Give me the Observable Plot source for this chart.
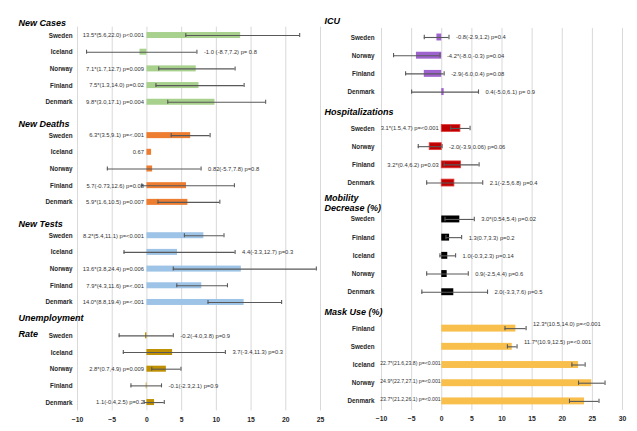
<!DOCTYPE html>
<html>
<head>
<meta charset="utf-8">
<script src="https://cdn.jsdelivr.net/npm/d3@7"></script>
<script src="https://cdn.jsdelivr.net/npm/@observablehq/plot@0.6"></script>
<style>
  html, body { margin: 0; padding: 0; background: #fff; }
  #wrap { position: relative; width: 637px; height: 431px; overflow: hidden; background: #fff; }
  #left { position: absolute; left: 0; top: 0; }
  #right { position: absolute; left: 312px; top: 0; }
  svg { overflow: visible; }
</style>
</head>
<body>
<div id="wrap"><div id="left"></div><div id="right"></div></div>
<script>
// ---------- Left column data ----------
const newCasesCountries = ["Sweden", "Iceland", "Norway", "Finland", "Denmark"];
const newCasesValues = [13.5, -1.0, 7.1, 7.5, 9.8];
const newCasesLo = [5.6, -8.7, 1.7, 1.3, 3.0];
const newCasesHi = [22.0, 7.2, 12.7, 14.0, 17.1];
const newCasesLabels = ["13.5*(5.6,22.0) p<0.001", "-1.0 (-8.7,7.2) p= 0.8", "7.1*(1.7,12.7) p=0.009", "7.5*(1.3,14.0) p=0.02", "9.8*(3.0,17.1) p=0.004"];
const newCasesSide = ["L", "R", "L", "L", "L"];

const newDeathsCountries = ["Sweden", "Iceland", "Norway", "Finland", "Denmark"];
const newDeathsValues = [6.3, 0.67, 0.82, 5.7, 5.9];
const newDeathsLo = [3.5, null, -5.7, -0.73, 1.6];
const newDeathsHi = [9.1, null, 7.8, 12.6, 10.5];
const newDeathsLabels = ["6.3*(3.5,9.1) p=<.001", "0.67", "0.82(-5.7,7.8) p=0.8", "5.7(-0.73,12.6) p=0.08", "5.9*(1.6,10.5) p=0.007"];
const newDeathsSide = ["L", "L", "R", "L", "L"];

const newTestsCountries = ["Sweden", "Iceland", "Norway", "Finland", "Denmark"];
const newTestsValues = [8.2, 4.4, 13.6, 7.9, 14.0];
const newTestsLo = [5.4, -3.3, 3.8, 4.3, 8.8];
const newTestsHi = [11.1, 12.7, 24.4, 11.6, 19.4];
const newTestsLabels = ["8.2*(5.4,11.1) p=<0.001", "4.4(-3.3,12.7) p=0.3", "13.6*(3.8,24.4) p=0.006", "7.9*(4.3,11.6) p=<.001", "14.0*(8.8,19.4) p=<.001"];
const newTestsSide = ["L", "R", "L", "L", "L"];

const unemploymentCountries = ["Sweden", "Iceland", "Norway", "Finland", "Denmark"];
const unemploymentValues = [-0.2, 3.7, 2.8, -0.1, 1.1];
const unemploymentLo = [-4.0, -3.4, 0.7, -2.3, -0.4];
const unemploymentHi = [3.8, 11.3, 4.9, 2.1, 2.5];
const unemploymentLabels = ["-0.2(-4.0,3.8) p=0.9", "3.7(-3.4,11.3) p=0.3", "2.8*(0.7,4.9) p=0.009", "-0.1(-2.3,2.1) p=0.9", "1.1(-0.4,2.5) p=0.2"];
const unemploymentSide = ["R", "R", "L", "R", "L"];

const leftTicks = [-10, -5, 0, 5, 10, 15, 20, 25];

// ---------- Right column data ----------
const icuCountries = ["Sweden", "Norway", "Finland", "Denmark"];
const icuValues = [-0.8, -4.2, -2.9, 0.4];
const icuLo = [-2.9, -8.0, -6.0, -5.0];
const icuHi = [1.2, -0.3, 0.4, 6.1];
const icuLabels = ["-0.8(-2.9,1.2) p=0.4", "-4.2*(-8.0,-0.3) p=0.04", "-2.9(-6.0,0.4) p=0.08", "0.4(-5.0,6.1) p= 0.9"];
const icuSide = ["R", "R", "R", "R"];

const hospCountries = ["Sweden", "Norway", "Finland", "Denmark"];
const hospValues = [3.1, -2.0, 3.2, 2.1];
const hospLo = [1.5, -3.9, 0.4, -2.5];
const hospHi = [4.7, 0.06, 6.2, 6.8];
const hospLabels = ["3.1*(1.5,4.7) p=<0.001", "-2.0(-3.9,0.06) p=0.06", "3.2*(0.4,6.2) p=0.03", "2.1(-2.5,6.8) p=0.4"];
const hospSide = ["L", "R", "L", "R"];

const mobilityCountries = ["Sweden", "Finland", "Iceland", "Norway", "Denmark"];
const mobilityValues = [3.0, 1.3, 1.0, 0.9, 2.0];
const mobilityLo = [0.54, 0.7, -0.3, -2.5, -3.3];
const mobilityHi = [5.4, 3.3, 2.3, 4.4, 7.6];
const mobilityLabels = ["3.0*(0.54,5.4) p=0.02", "1.3(0.7,3.3) p=0.2", "1.0(-0.3,2.3) p=0.14", "0.9(-2.5,4.4) p=0.6", "2.0(-3.3,7.6) p=0.5"];
const mobilitySide = ["R", "R", "R", "R", "R"];

const maskCountries = ["Finland", "Sweden", "Iceland", "Norway", "Denmark"];
const maskValues = [12.3, 11.7, 22.7, 24.9, 23.7];
const maskLo = [10.5, 10.9, 21.6, 22.7, 21.2];
const maskHi = [14.0, 12.5, 23.8, 27.1, 26.1];
const maskLabels = ["12.3*(10.5,14.0) p=<0.001", "11.7*(10.9,12.5) p=<0.001", "22.7*(21.6,23.8) p=<0.001", "24.9*(22.7,27.1) p=<0.001", "23.7*(21.2,26.1) p=<0.001"];
const maskSide = ["R", "R", "L", "L", "L"];

const rightTicks = [-10, -5, 0, 5, 10, 15, 20, 25, 30];

// ---------- Build ----------
const leftPanels = [
  {title: "New Cases", color: "#a9d18e", c: newCasesCountries, v: newCasesValues, lo: newCasesLo, hi: newCasesHi, lab: newCasesLabels, side: newCasesSide},
  {title: "New Deaths", color: "#ed7d31", c: newDeathsCountries, v: newDeathsValues, lo: newDeathsLo, hi: newDeathsHi, lab: newDeathsLabels, side: newDeathsSide},
  {title: "New Tests", color: "#9dc3e6", c: newTestsCountries, v: newTestsValues, lo: newTestsLo, hi: newTestsHi, lab: newTestsLabels, side: newTestsSide},
  {title: "Unemployment\nRate", color: "#bf9000", c: unemploymentCountries, v: unemploymentValues, lo: unemploymentLo, hi: unemploymentHi, lab: unemploymentLabels, side: unemploymentSide}
];
const rightPanels = [
  {title: "ICU", color: "#9e63cf", c: icuCountries, v: icuValues, lo: icuLo, hi: icuHi, lab: icuLabels, side: icuSide},
  {title: "Hospitalizations", color: "#c00000", c: hospCountries, v: hospValues, lo: hospLo, hi: hospHi, lab: hospLabels, side: hospSide},
  {title: "Mobility\nDecrease (%)", color: "#000000", c: mobilityCountries, v: mobilityValues, lo: mobilityLo, hi: mobilityHi, lab: mobilityLabels, side: mobilitySide},
  {title: "Mask Use (%)", color: "#f8bf4c", c: maskCountries, v: maskValues, lo: maskLo, hi: maskHi, lab: maskLabels, side: maskSide, lift: true}
];

function build(panels) {
  const rows = [], titles = [];
  let slot = 0;
  for (const p of panels) {
    titles.push({slot, title: p.title});
    slot++;
    p.c.forEach((country, i) => {
      rows.push({slot, country, value: p.v[i], lo: p.lo[i], hi: p.hi[i], label: p.lab[i], side: p.side[i], color: p.color, lift: !!p.lift});
      slot++;
    });
  }
  return {rows, titles, n: slot};
}

const font = "'Liberation Sans', Arial, sans-serif";

function column({panels, ticks, width, marginLeft, marginRight, marginTop, marginBottom, domain, titleDx, titleDy, multiDy, titleLineHeight, countryDx, barHalf}) {
  const {rows, titles, n} = build(panels);
  const ci = rows.filter(d => d.lo != null);
  const caps = ci.flatMap(d => [{x: d.lo, slot: d.slot}, {x: d.hi, slot: d.slot}]);
  const leftLab = rows.filter(d => d.side === "L" && !d.lift);
  const leftLabLift = rows.filter(d => d.side === "L" && d.lift);
  const rightLab = rows.filter(d => d.side === "R");
  const titleStyle = {y: "slot", text: "title", frameAnchor: "left", dx: titleDx, textAnchor: "start",
    lineAnchor: "middle", lineHeight: titleLineHeight,
    fontWeight: "bold", fontStyle: "italic", fontSize: 9, fill: "#000", fontFamily: font};
  return Plot.plot({
    width, height: 431,
    marginLeft, marginRight, marginTop, marginBottom,
    style: {background: "transparent", overflow: "visible", fontFamily: font},
    x: {domain, ticks, label: null},
    y: {domain: [-0.5, n - 0.5], reverse: true, axis: null},
    color: {type: "identity"},
    marks: [
      Plot.ruleX(ticks, {x: d => d, y1: 0.5, y2: n - 0.5, stroke: "#d9d9d9", strokeWidth: 1}),
      Plot.rect(rows, {x1: 0, x2: "value", y1: d => d.slot - barHalf, y2: d => d.slot + barHalf, fill: "color",
        stroke: d => d.color === "#c00000" ? "#e03c3c" : "none", strokeWidth: 0.8}),
      Plot.ruleY(ci, {y: "slot", x1: "lo", x2: "hi", stroke: "#595959", strokeWidth: 1.1}),
      Plot.ruleX(caps, {x: "x", y1: d => d.slot - 0.12, y2: d => d.slot + 0.12, stroke: "#595959", strokeWidth: 1.1}),
      Plot.text(leftLab, {x: 0, y: "slot", text: "label", textAnchor: "end", dx: -3,
        fontSize: 5.8, fill: "#333", fontFamily: font}),
      Plot.text(leftLabLift, {x: 0, y: d => d.slot - 0.1, text: "label", textAnchor: "end", dx: -1,
        fontSize: 5.2, fill: "#333", fontFamily: font}),
      Plot.text(rightLab, {x: d => d.hi ?? d.value, y: d => d.lift ? d.slot - 0.25 : d.slot, text: "label", textAnchor: "start", dx: 7,
        fontSize: 5.8, fill: "#333", fontFamily: font}),
      Plot.text(rows, {y: "slot", text: "country", frameAnchor: "left", dx: countryDx, textAnchor: "end",
        fontWeight: "bold", fontSize: 6.3, fill: "#262626", fontFamily: font}),
      Plot.text(titles.filter(d => !d.title.includes("\n")), {...titleStyle, dy: titleDy}),
      Plot.text(titles.filter(d => d.title.includes("\n")), {...titleStyle, dy: multiDy}),
      Plot.axisX({ticks, tickSize: 0, tickPadding: 6, fontWeight: "bold", fontSize: 6.8, label: null, fill: "#262626"})
    ]
  });
}

document.getElementById("left").appendChild(column({
  panels: leftPanels, ticks: leftTicks, width: 322, marginLeft: 77, marginRight: 2,
  marginTop: 10, marginBottom: 20.6, domain: [-10, 25],
  titleDx: -59, titleDy: 2.5, multiDy: 4.4, titleLineHeight: 1.78, countryDx: -5, barHalf: 0.18
}));
document.getElementById("right").appendChild(column({
  panels: rightPanels, ticks: rightTicks, width: 325, marginLeft: 69, marginRight: 15,
  marginTop: 9.7, marginBottom: 21, domain: [-10, 30],
  titleDx: -57, titleDy: 1.5, multiDy: 1.2, titleLineHeight: 1.1, countryDx: -7, barHalf: 0.19
}));
</script>
</body>
</html>
